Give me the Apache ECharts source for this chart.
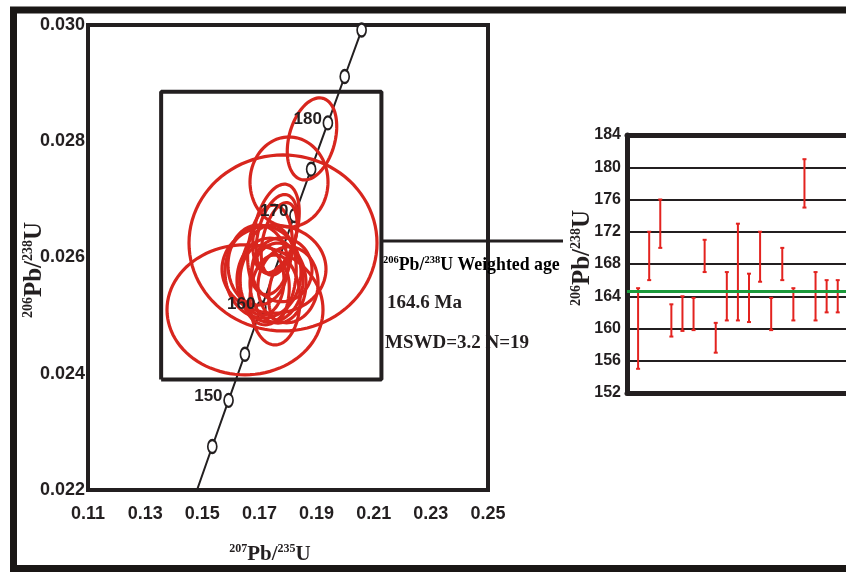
<!DOCTYPE html>
<html><head><meta charset="utf-8">
<script src="https://cdn.jsdelivr.net/npm/echarts@6/dist/echarts.min.js"></script>
<style>html,body{margin:0;padding:0;background:#fff}#c{width:846px;height:572px}</style>
</head><body><div id="c"></div>
<script>
// ---- Concordia reference points (age in Ma, 207Pb/235U, 206Pb/238U) ----
var concAges = [140, 145, 150, 155, 160, 165, 170, 175, 180, 185, 190];
var concX = [0.14784, 0.15350, 0.15920, 0.16492, 0.17067, 0.17645, 0.18226, 0.18809, 0.19396, 0.19985, 0.20577];
var concY = [0.021955, 0.022748, 0.023542, 0.024335, 0.025131, 0.025926, 0.026722, 0.027519, 0.028316, 0.029114, 0.029913];
var markedAges = [145, 150, 155, 160, 170, 175, 180, 185, 190];
var labelledAges = [150, 160, 170, 180];

// ---- Error ellipses: centre (207/235, 206/238), half-widths, tilt in degrees ----
var ellX = [0.1884, 0.18035, 0.17825, 0.16495, 0.1751, 0.1758, 0.17615, 0.1769, 0.1737, 0.17125, 0.1737, 0.1765, 0.17545, 0.18, 0.1730, 0.1709, 0.17685, 0.1695, 0.1779];
var ellY = [0.02804, 0.02730, 0.02625, 0.02510, 0.02580, 0.02650, 0.02640, 0.02632, 0.02613, 0.02575, 0.02561, 0.02556, 0.02527, 0.02553, 0.02570, 0.02561, 0.02539, 0.02587, 0.02579];
var ellA = [0.00805, 0.01365, 0.0329, 0.0273, 0.0182, 0.0074, 0.0066, 0.0056, 0.0077, 0.0133, 0.01155, 0.0098, 0.00875, 0.0105, 0.0098, 0.0077, 0.0035, 0.0105, 0.0105];
var ellB = [0.000723, 0.000774, 0.001514, 0.001118, 0.000757, 0.00078, 0.00070, 0.00064, 0.000774, 0.000791, 0.000723, 0.000688, 0.000774, 0.000654, 0.00086, 0.000602, 0.000465, 0.000688, 0.00055];
var ellRot = [15, 0, 0, 0, 0, 14, 14, 14, 6, 0, 0, 0, 0, 5, 5, 0, 5, 0, 0];

// ---- Inset frame on the concordia plot ----
var insetX = [0.1356, 0.2127];
var insetY = [0.02390, 0.02885];

// ---- Weighted mean 206Pb/238U ages (Ma) ----
var spots = [1, 2, 3, 4, 5, 6, 7, 8, 9, 10, 11, 12, 13, 14, 15, 16, 17, 18, 19];
var ageLow  = [155, 166, 170, 159, 159.7, 159.8, 167, 157, 161, 161, 160.8, 165.8, 159.8, 166, 161, 175, 161, 162, 162];
var ageHigh = [165, 172, 176, 163, 164, 163.8, 171, 160.7, 167, 173, 166.8, 172, 163.8, 170, 165, 181, 167, 166, 166];
var weightedAge = 164.6;
var mswd = 3.2;
var nSpots = 19;

var BLACK = '#231f20', RED = '#d8261e', GREEN = '#1b9a3b';
var SANS = "'Liberation Sans', Arial, sans-serif";
var SERIF = "'Liberation Serif', 'Times New Roman', serif";

function ratioTitle(a, b, size) {
  return {
    text: '{s|' + a + '}{n|Pb/}{s|' + b + '}{n|U}',
    rich: {
      n: {fontSize: size, fontFamily: SERIF, fontWeight: 'bold', color: BLACK, lineHeight: size + 2},
      s: {fontSize: Math.round(size * 0.58), fontFamily: SERIF, fontWeight: 'bold', color: BLACK, verticalAlign: 'top', lineHeight: size + 2}
    }
  };
}

var chart = echarts.init(document.getElementById('c'), null, {renderer: 'canvas'});

var concLine = concX.map(function (x, i) { return [x, concY[i]]; });
var concMarks = markedAges.map(function (age) {
  var i = concAges.indexOf(age);
  return [concX[i], concY[i]];
});
var concLabels = labelledAges.map(function (age) {
  var i = concAges.indexOf(age);
  return [concX[i], concY[i], age];
});
var ellData = ellX.map(function (x, i) { return [x, ellY[i], ellA[i], ellB[i], ellRot[i]]; });
var insetData = [[insetX[0], insetY[0]], [insetX[1], insetY[0]], [insetX[1], insetY[1]], [insetX[0], insetY[1]], [insetX[0], insetY[0]]];
var barData = spots.map(function (s, i) { return [s, ageLow[i], ageHigh[i]]; });

var xt = ratioTitle('207', '235', 21);
var yt = ratioTitle('206', '238', 25);
var yt2 = ratioTitle('206', '238', 25);
var tickFont = {fontWeight: 'bold', fontFamily: SANS, color: BLACK};

var option = {
  animation: false,
  backgroundColor: '#fff',
  grid: [
    {left: 88, top: 25, width: 400, height: 465, show: true, borderColor: BLACK, borderWidth: 4, backgroundColor: 'transparent', outerBoundsMode: 'none', containLabel: false},
    {left: 627, top: 135, width: 244, height: 258, show: false, outerBoundsMode: 'none', containLabel: false}
  ],
  xAxis: [
    {gridIndex: 0, type: 'value', min: 0.11, max: 0.25, interval: 0.01,
      axisLine: {show: false}, axisTick: {show: false}, splitLine: {show: false},
      axisLabel: Object.assign({margin: 15, fontSize: 18, showMinLabel: true, showMaxLabel: true,
        formatter: function (v) { return Math.round(v * 100) % 2 === 1 ? v.toFixed(2) : ''; }}, tickFont),
      name: xt.text, nameLocation: 'middle', nameGap: 53, nameMoveOverlap: false,
      nameTextStyle: {rich: xt.rich, padding: [0, 36, 0, 0]}},
    {gridIndex: 1, type: 'value', min: 0, max: 22, position: 'bottom',
      axisLine: {show: true, onZero: false, lineStyle: {color: BLACK, width: 5}}, axisTick: {show: false}, splitLine: {show: false}, axisLabel: {show: false}},
    {gridIndex: 1, type: 'value', min: 0, max: 22, position: 'top',
      axisLine: {show: true, onZero: false, lineStyle: {color: BLACK, width: 5}}, axisTick: {show: false}, splitLine: {show: false}, axisLabel: {show: false}}
  ],
  yAxis: [
    {gridIndex: 0, type: 'value', min: 0.022, max: 0.030, interval: 0.002,
      axisLine: {show: false}, axisTick: {show: false}, splitLine: {show: false},
      axisLabel: Object.assign({margin: 3, fontSize: 18,
        formatter: function (v) { return v.toFixed(3); }}, tickFont),
      name: yt.text, nameLocation: 'middle', nameGap: 40, nameMoveOverlap: false,
      nameTextStyle: {rich: yt.rich, padding: [0, 25, 0, 0]}},
    {gridIndex: 1, type: 'value', min: 152, max: 184, interval: 4,
      axisLine: {show: true, onZero: false, lineStyle: {color: BLACK, width: 5}}, axisTick: {show: false},
      splitLine: {show: true, lineStyle: {color: BLACK, width: 2}},
      axisLabel: Object.assign({margin: 6, fontSize: 16}, tickFont),
      name: yt2.text, nameLocation: 'middle', nameGap: 31, nameMoveOverlap: false,
      nameTextStyle: {rich: yt2.rich, padding: [0, 0, 0, 12]}}
  ],
  series: [
    {type: 'line', xAxisIndex: 0, yAxisIndex: 0, data: insetData, symbol: 'none', z: 1,
      lineStyle: {color: BLACK, width: 4}, silent: true},
    {type: 'line', xAxisIndex: 0, yAxisIndex: 0, data: concLine, symbol: 'none', z: 2, silent: true,
      lineStyle: {color: BLACK, width: 2}},
    {type: 'scatter', xAxisIndex: 0, yAxisIndex: 0, data: concMarks, z: 3, silent: true,
      symbol: 'circle', symbolSize: [9, 13],
      itemStyle: {color: '#fff', borderColor: BLACK, borderWidth: 2, opacity: 1}},
    {type: 'custom', xAxisIndex: 0, yAxisIndex: 0, data: ellData, z: 4, silent: true,
      encode: {x: 0, y: 1},
      renderItem: function (params, api) {
        var c = api.coord([api.value(0), api.value(1)]);
        var s = api.size([api.value(2), api.value(3)]);
        var th = api.value(4) * Math.PI / 180;
        var pts = [];
        for (var k = 0; k < 96; k++) {
          var t = k / 96 * Math.PI * 2;
          var ex = s[0] * Math.cos(t), ey = s[1] * Math.sin(t);
          pts.push([c[0] + ex * Math.cos(th) - ey * Math.sin(th), c[1] + ex * Math.sin(th) + ey * Math.cos(th)]);
        }
        return {type: 'polygon', shape: {points: pts}, style: {fill: 'none', stroke: RED, lineWidth: 3.2}};
      }},
    {type: 'custom', xAxisIndex: 0, yAxisIndex: 0, data: concLabels, z: 5, silent: true,
      encode: {x: 0, y: 1},
      renderItem: function (params, api) {
        var c = api.coord([api.value(0), api.value(1)]);
        return {type: 'text', x: c[0] - 6, y: c[1] - 4,
          style: {text: String(api.value(2)), align: 'right', verticalAlign: 'middle',
            fontSize: 17, fontWeight: 'bold', fontFamily: SANS, fill: BLACK}};
      }},
    {type: 'custom', xAxisIndex: 1, yAxisIndex: 1, data: barData, z: 3, silent: true,
      encode: {x: 0, y: [1, 2]},
      renderItem: function (params, api) {
        var lo = api.coord([api.value(0), api.value(1)]);
        var hi = api.coord([api.value(0), api.value(2)]);
        var st = {stroke: '#e3231f', lineWidth: 2};
        return {type: 'group', children: [
          {type: 'line', shape: {x1: lo[0], y1: lo[1], x2: hi[0], y2: hi[1]}, style: st},
          {type: 'line', shape: {x1: lo[0] - 2, y1: lo[1], x2: lo[0] + 2, y2: lo[1]}, style: st},
          {type: 'line', shape: {x1: hi[0] - 2, y1: hi[1], x2: hi[0] + 2, y2: hi[1]}, style: st}
        ]};
      },
      markLine: {silent: true, symbol: ['none', 'none'], label: {show: false},
        lineStyle: {color: GREEN, width: 3, type: 'solid'}, data: [{yAxis: weightedAge}]}}
  ],
  graphic: [
    {type: 'rect', shape: {x: 13.5, y: 10, width: 900, height: 558.5}, style: {fill: 'none', stroke: '#1a1715', lineWidth: 7}, z: 10, silent: true},
    {type: 'line', shape: {x1: 382, y1: 241, x2: 563, y2: 241}, style: {stroke: BLACK, lineWidth: 3}, z: 5, silent: true},
    {type: 'text', left: 383, top: 255, z: 6, silent: true,
      style: {text: '{s|206}{n|Pb/}{s|238}{n|U Weighted age}',
        rich: {n: {fontSize: 17.8, fontFamily: SERIF, fontWeight: 'bold', color: BLACK, lineHeight: 21},
               s: {fontSize: 10.5, fontFamily: SERIF, fontWeight: 'bold', color: BLACK, verticalAlign: 'top', lineHeight: 21}}}},
    {type: 'text', left: 387, top: 294, z: 6, silent: true,
      style: {text: weightedAge.toFixed(1) + ' Ma', fontSize: 19, fontFamily: SERIF, fontWeight: 'bold', fill: BLACK}},
    {type: 'text', left: 385, top: 334, z: 6, silent: true,
      style: {text: 'MSWD=' + mswd.toFixed(1) + ' N=' + nSpots, fontSize: 19, fontFamily: SERIF, fontWeight: 'bold', fill: BLACK}}
  ]
};
chart.setOption(option);
</script>
</body></html>
